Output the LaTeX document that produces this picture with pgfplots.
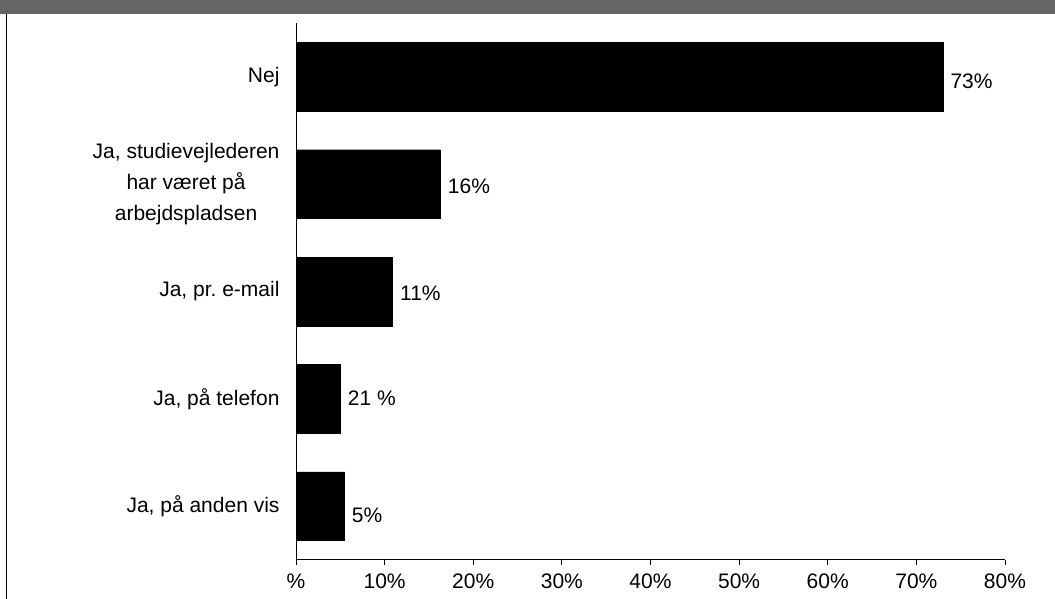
\documentclass[border=0pt]{standalone}
\usepackage{pgfplots}
\pgfplotsset{compat=1.18}
\usepackage{pgfplotstable}
\usepackage{fontspec}
\setmainfont{Liberation Sans}
\definecolor{hdr}{HTML}{666666}
\pgfplotstableread{
x y dy label
73.0 4 -5 73\%
16.3 3 -2 16\%
10.9 2 -2 11\%
5.0 1 1 {21 \%}
5.45 0 -9 5\%
}\datatab
\begin{document}
\begin{tikzpicture}[x=1pt,y=1pt]
\useasboundingbox (0,0) rectangle (1055,599);
\fill[hdr] (0,585) rectangle (1055,599);
\draw[line width=1.5pt] (6.5,0) -- (6.5,585);
\begin{axis}[
  at={(296pt,39pt)}, anchor=south west,
  scale only axis, width=709pt, height=537pt,
  xmin=0, xmax=80, ymin=-0.5, ymax=4.5,
  axis x line=bottom, axis y line=left,
  axis line style={-, line width=1pt},
  xtick={0,10,...,80},
  xticklabels={\%,10\%,20\%,30\%,40\%,50\%,60\%,70\%,80\%},
  ytick={0,1,2,3,4},
  yticklabels={{Ja, på anden vis},{Ja, på telefon},{Ja, pr.\ e-mail},{Ja, studievejlederen\\har været på\\arbejdspladsen},{Nej}},
  tick align=outside, major tick length=5pt,
  xtick style={line width=1pt, black},
  ytick style={draw=none},
  ticklabel style={font=\fontsize{21}{31}\selectfont},
  yticklabel style={align=center, xshift=-8pt},
  xticklabel style={yshift=-5pt},
  xbar, bar width=0.64,
  point meta=explicit symbolic,
  visualization depends on={\thisrow{dy} \as \dy},
  nodes near coords,
  nodes near coords style={anchor=west, xshift=4pt, yshift=\dy pt, font=\fontsize{21}{24}\selectfont},
  clip=false,
]
\addplot[fill=black, draw=black] table[x=x, y=y, meta=label] {\datatab};
\end{axis}
\end{tikzpicture}
\end{document}
